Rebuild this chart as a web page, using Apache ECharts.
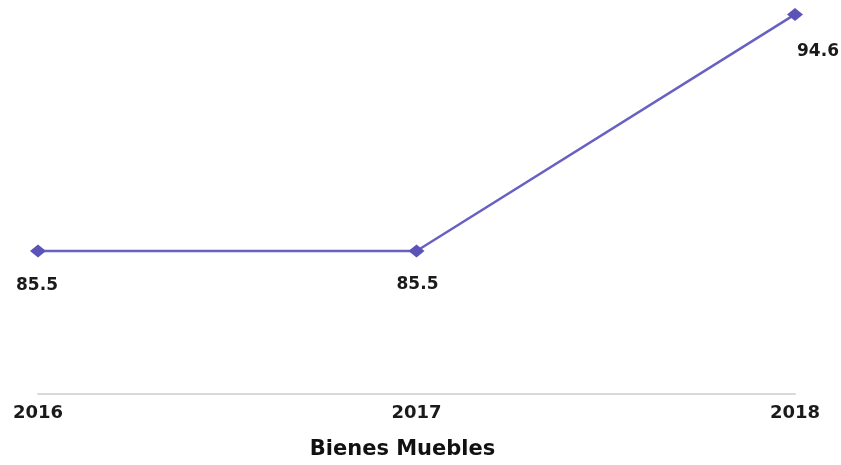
<!DOCTYPE html>
<html>
<head>
<meta charset="utf-8">
<script src="https://cdn.jsdelivr.net/npm/echarts@6/dist/echarts.min.js"></script>
<style>
html,body{margin:0;padding:0;background:#fff;}
#chart{width:841px;height:465px;}
</style>
</head>
<body>
<div id="chart"></div>
<script>
const categories = ['2016', '2017', '2018'];
const values = [85.5, 85.5, 94.6];
const labelOffsets = [[-1, 35], [1, 34], [23, 37]];
const axisName = 'Bienes Muebles';

const chart = echarts.init(document.getElementById('chart'), null, {renderer: 'canvas'});
const font = 'DejaVu Sans, Arial, sans-serif';
chart.setOption({
  backgroundColor: '#ffffff',
  animation: false,
  grid: {left: 38, right: 46, top: 4, bottom: 66},
  xAxis: {
    type: 'category',
    data: categories,
    boundaryGap: false,
    axisLine: {lineStyle: {color: '#d9d9d9', width: 2}},
    axisTick: {show: false},
    axisLabel: {color: '#1a1a1a', fontWeight: 'bold', fontSize: 18, fontFamily: font, margin: 10},
    name: axisName,
    nameLocation: 'middle',
    nameGap: 45,
    nameTextStyle: {color: '#111', fontWeight: 'bold', fontSize: 21, fontFamily: font, padding: [0, 28, 0, 0]}
  },
  yAxis: {
    type: 'value',
    min: 80,
    max: 95,
    show: false,
    splitLine: {show: false}
  },
  series: [{
    type: 'line',
    data: values.map((v, i) => ({
      value: v,
      label: {offset: labelOffsets[i]}
    })),
    symbol: 'diamond',
    symbolSize: [16, 13],
    itemStyle: {color: '#5b53b8'},
    lineStyle: {color: '#6961c2', width: 2.5},
    label: {
      show: true,
      position: 'inside',
      color: '#1a1a1a',
      fontWeight: 'bold',
      fontSize: 17,
      fontFamily: font
    }
  }]
});
</script>
</body>
</html>
